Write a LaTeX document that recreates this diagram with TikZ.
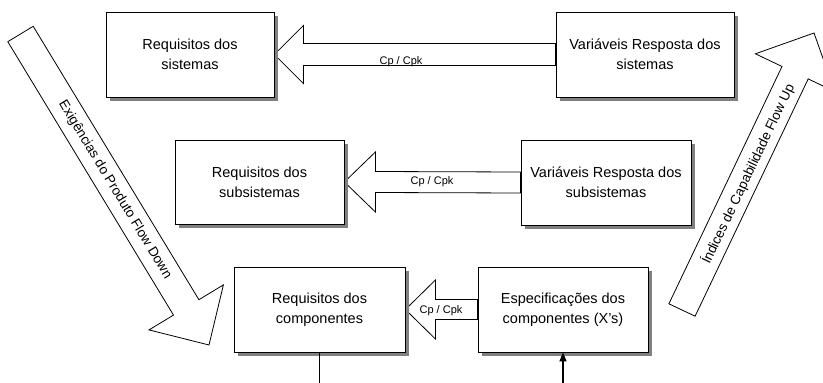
\documentclass[tikz,border=0pt]{standalone}
\usepackage{fontspec}
\setmainfont{Liberation Sans}
\usetikzlibrary{calc,shadows,arrows.meta}
\pgfdeclarelayer{background}
\pgfsetlayers{background,main}
\begin{document}
\begin{tikzpicture}[x=1pt,y=-1pt,
  box/.style={draw=black, line width=0.8pt, fill=white, minimum height=85pt,
    align=center, inner sep=0pt, font=\fontsize{14.5}{20}\selectfont,
    drop shadow={shadow xshift=4pt, shadow yshift=-4pt, fill=black!50, opacity=1}},
  fat/.style={draw=black, line width=0.8pt, fill=white, line join=miter},
  cplabel/.style={font=\fontsize{11}{13}\selectfont, inner sep=0pt},
  flowlabel/.style={font=\fontsize{13.5}{16}\selectfont, inner sep=0pt},
  stem/.style={draw=black, line width=1.3pt}]
\clip (0,0) rectangle (823,383);

% boxes
\node[box, minimum width=168pt] (b1) at (190,54.5) {Requisitos dos\\sistemas};
\node[box, minimum width=178pt] (b2) at (645,54.5) {Variáveis Resposta dos\\sistemas};
\node[box, minimum width=169pt, minimum height=84pt] (b3) at (259.5,182) {Requisitos dos\\subsistemas};
\node[box, minimum width=170pt] (b4) at (606,182.5) {Variáveis Resposta dos\\subsistemas};
\node[box, minimum width=171pt] (b5) at (319.5,309.5) {Requisitos dos\\componentes};
\node[box, minimum width=170pt] (b6) at (563,309.5) {Especificações dos\\componentes (X’s)};

\begin{pgfonlayer}{background}
\fill[white] (0,0) rectangle (823,383);
% fat horizontal arrows
\draw[fat] (b1.east) -- ($(b1.east)+(29,-29)$) -- ($(b1.east)+(29,-11)$)
  -- ($(b2.west)+(0,-11)$) -- ($(b2.west)+(0,11)$) -- ($(b1.east)+(29,11)$)
  -- ($(b1.east)+(29,29)$) -- cycle;
\draw[fat] (b3.east) -- ($(b3.east)+(31,-30)$) -- ($(b3.east)+(31,-10.5)$)
  -- ($(b4.west)+(0,-10.5)$) -- ($(b4.west)+(0,10.5)$) -- ($(b3.east)+(31,10.5)$)
  -- ($(b3.east)+(31,30)$) -- cycle;
\draw[fat] (b5.east) -- ($(b5.east)+(30,-29.5)$) -- ($(b5.east)+(30,-10)$)
  -- ($(b6.west)+(0,-10)$) -- ($(b6.west)+(0,10)$) -- ($(b5.east)+(30,10)$)
  -- ($(b5.east)+(30,29.5)$) -- cycle;
% big diagonal arrows
\draw[fat] (33.2,26.3) -- (198.9,299.7) -- (223.4,284.9) -- (209,345)
  -- (149.0,329.9) -- (173.5,315.1) -- (7.8,41.7) -- cycle;
\draw[fat] (668.9,303.8) -- (782.0,66.5) -- (755.4,53.8) -- (814,33)
  -- (834.8,91.6) -- (808.2,78.9) -- (695.1,316.2) -- cycle;
\end{pgfonlayer}

% labels
\node[cplabel] (l1) at (401,62) {Cp / Cpk};
\node[cplabel] (l2) at (432,182) {Cp / Cpk};
\node[cplabel] (l3) at (441,311) {Cp / Cpk};
\node[flowlabel, rotate=-58.8] (t1) at (115,190) {Exigências do Produto Flow Down};
\node[flowlabel, rotate=64.5] (t2) at (748,174) {Índices de Capabilidade Flow Up};

% stems
\coordinate (e1) at (319.5,383);
\coordinate (e2) at (563,383);
\draw[stem] (b5.south) -- (e1);
\draw[stem, -{Triangle[length=9pt,width=7pt]}] (e2) -- (b6.south);
\end{tikzpicture}
\end{document}
